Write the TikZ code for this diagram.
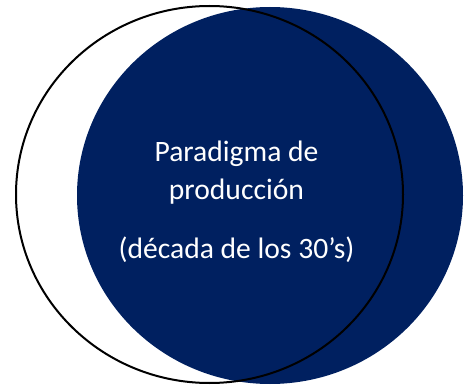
\documentclass[tikz,border=0pt]{standalone}
\usepackage{fontspec}
\setmainfont{Carlito}
\definecolor{navy}{RGB}{0,32,96}

\begin{document}
\begin{tikzpicture}[x=1pt, y=-1pt]
        \useasboundingbox (0,0) rectangle (474,385);

        % Paradigm area (filled)
        \fill[navy] (270,195.5) ellipse (193 and 188.5);

        % Outline of the other circle
        \draw[black, line width=2pt] (209.5,194.5) ellipse (193.5 and 188.5);

        % Label inside the filled area
        \node[anchor=base, white, font=\fontsize{29.6}{36}\selectfont, inner sep=0pt] (title) at (236.5,161) {Paradigma de};
        \node[anchor=base, white, font=\fontsize{29.6}{36}\selectfont, inner sep=0pt] (subtitle) at (236.5,199) {producción};
        \node[anchor=base, white, font=\fontsize{29.6}{36}\selectfont, inner sep=0pt] (period) at (236.5,258) {(década de los 30’s)};

    \end{tikzpicture}
\end{document}
